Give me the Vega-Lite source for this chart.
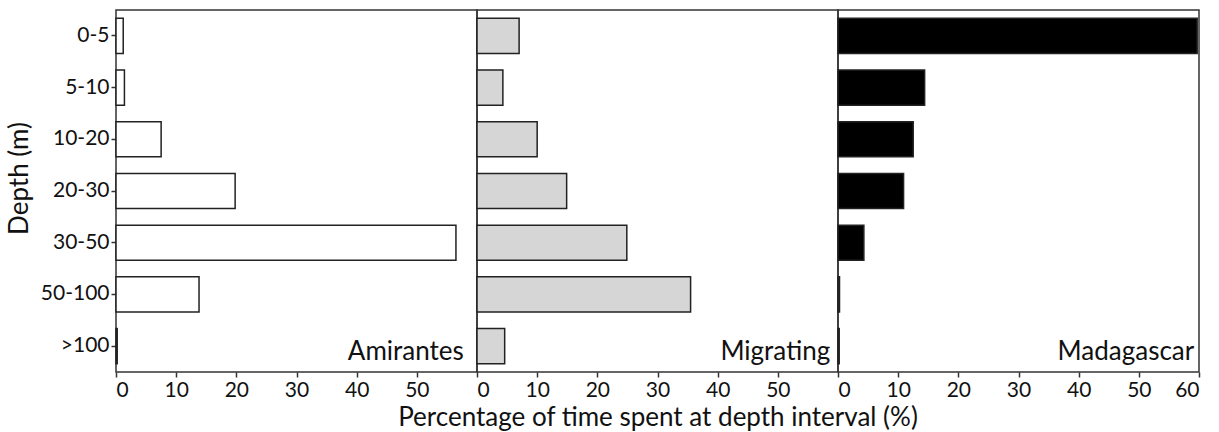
{
  "$schema": "https://vega.github.io/schema/vega-lite/v6.json",
  "padding": {"left": 5, "top": 9, "right": 5, "bottom": 5},
  "background": "white",
  "spacing": 0,
  "bounds": "flush",
  "config": {
    "font": "Lato",
    "view": {"stroke": "#333", "strokeWidth": 1.5},
    "axis": {
      "domain": false,
      "tickColor": "#333",
      "tickWidth": 1.5,
      "tickSize": 5,
      "labelFont": "Lato",
      "labelFontSize": 21,
      "labelColor": "#111",
      "titleFont": "Lato",
      "titleFontSize": 26,
      "titleFontWeight": "normal",
      "titleColor": "#111",
      "grid": false
    },
    "concat": {"spacing": 0}
  },
  "data": {
    "values": [
      {"depth": "0-5", "site": "Amirantes", "pct": 1.2},
      {"depth": "5-10", "site": "Amirantes", "pct": 1.4},
      {"depth": "10-20", "site": "Amirantes", "pct": 7.5},
      {"depth": "20-30", "site": "Amirantes", "pct": 19.8},
      {"depth": "30-50", "site": "Amirantes", "pct": 56.5},
      {"depth": "50-100", "site": "Amirantes", "pct": 13.8},
      {"depth": ">100", "site": "Amirantes", "pct": 0.2},
      {"depth": "0-5", "site": "Migrating", "pct": 7.0},
      {"depth": "5-10", "site": "Migrating", "pct": 4.3},
      {"depth": "10-20", "site": "Migrating", "pct": 10.0},
      {"depth": "20-30", "site": "Migrating", "pct": 14.9},
      {"depth": "30-50", "site": "Migrating", "pct": 24.9},
      {"depth": "50-100", "site": "Migrating", "pct": 35.5},
      {"depth": ">100", "site": "Migrating", "pct": 4.6},
      {"depth": "0-5", "site": "Madagascar", "pct": 59.7},
      {"depth": "5-10", "site": "Madagascar", "pct": 14.4},
      {"depth": "10-20", "site": "Madagascar", "pct": 12.5},
      {"depth": "20-30", "site": "Madagascar", "pct": 10.9},
      {"depth": "30-50", "site": "Madagascar", "pct": 4.3},
      {"depth": "50-100", "site": "Madagascar", "pct": 0.25},
      {"depth": ">100", "site": "Madagascar", "pct": 0.2}
    ]
  },
  "hconcat": [
    {
      "width": 361,
      "height": 362,
      "transform": [{"filter": "datum.site === 'Amirantes'"}],
      "layer": [
        {
          "mark": {"type": "bar", "fill": "white", "stroke": "#222", "strokeWidth": 1.5},
          "encoding": {
            "y": {"field": "depth", "type": "ordinal", "sort": ["0-5", "5-10", "10-20", "20-30", "30-50", "50-100", ">100"],
                  "scale": {"paddingInner": 0.32, "paddingOuter": 0.16},
                  "axis": {"title": "Depth (m)", "labelPadding": 2, "titlePadding": 8, "titleY": 168}},
            "x": {"field": "pct", "type": "quantitative", "scale": {"domain": [0, 60], "nice": false},
                  "axis": {"values": [0, 10, 20, 30, 40, 50], "title": null}}
          }
        },
        {
          "transform": [{"filter": "datum.depth === '>100'"}],
          "mark": {"type": "text", "align": "right", "baseline": "middle", "fontSize": 26, "fontWeight": "normal", "dy": 6, "fill": "#111"},
          "encoding": {
            "x": {"datum": 57.8, "type": "quantitative"},
            "y": {"field": "depth", "type": "ordinal", "sort": ["0-5", "5-10", "10-20", "20-30", "30-50", "50-100", ">100"]},
            "text": {"field": "site"}
          }
        }
      ]
    },
    {
      "width": 361,
      "height": 362,
      "transform": [{"filter": "datum.site === 'Migrating'"}],
      "layer": [
        {
          "mark": {"type": "bar", "fill": "#d6d6d6", "stroke": "#222", "strokeWidth": 1.5},
          "encoding": {
            "y": {"field": "depth", "type": "ordinal", "sort": ["0-5", "5-10", "10-20", "20-30", "30-50", "50-100", ">100"],
                  "scale": {"paddingInner": 0.32, "paddingOuter": 0.16}, "axis": null},
            "x": {"field": "pct", "type": "quantitative", "scale": {"domain": [0, 60], "nice": false},
                  "axis": {"values": [0, 10, 20, 30, 40, 50], "title": "Percentage of time spent at depth interval (%)", "titlePadding": 4}}
          }
        },
        {
          "transform": [{"filter": "datum.depth === '>100'"}],
          "mark": {"type": "text", "align": "right", "baseline": "middle", "fontSize": 26, "fontWeight": "normal", "dy": 6, "fill": "#111"},
          "encoding": {
            "x": {"datum": 58.7, "type": "quantitative"},
            "y": {"field": "depth", "type": "ordinal", "sort": ["0-5", "5-10", "10-20", "20-30", "30-50", "50-100", ">100"], "axis": null},
            "text": {"field": "site"}
          }
        }
      ]
    },
    {
      "width": 361,
      "height": 362,
      "transform": [{"filter": "datum.site === 'Madagascar'"}],
      "layer": [
        {
          "mark": {"type": "bar", "fill": "black", "stroke": "#222", "strokeWidth": 1.5},
          "encoding": {
            "y": {"field": "depth", "type": "ordinal", "sort": ["0-5", "5-10", "10-20", "20-30", "30-50", "50-100", ">100"],
                  "scale": {"paddingInner": 0.32, "paddingOuter": 0.16}, "axis": null},
            "x": {"field": "pct", "type": "quantitative", "scale": {"domain": [0, 60], "nice": false},
                  "axis": {"values": [0, 10, 20, 30, 40, 50, 60], "title": null}}
          }
        },
        {
          "transform": [{"filter": "datum.depth === '>100'"}],
          "mark": {"type": "text", "align": "right", "baseline": "middle", "fontSize": 26, "fontWeight": "normal", "dy": 6, "fill": "#111"},
          "encoding": {
            "x": {"datum": 59.2, "type": "quantitative"},
            "y": {"field": "depth", "type": "ordinal", "sort": ["0-5", "5-10", "10-20", "20-30", "30-50", "50-100", ">100"], "axis": null},
            "text": {"field": "site"}
          }
        }
      ]
    }
  ]
}
